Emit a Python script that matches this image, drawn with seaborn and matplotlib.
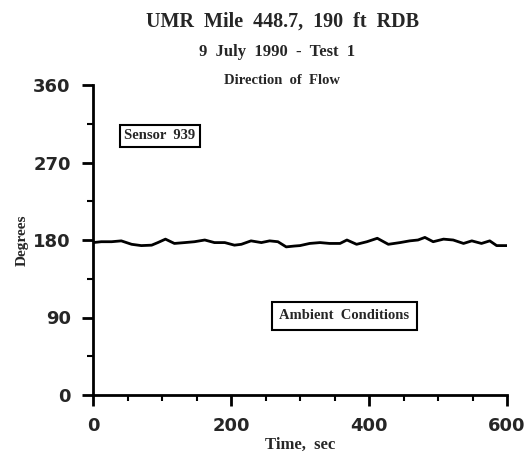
import matplotlib
matplotlib.use("Agg")
import matplotlib.pyplot as plt
from matplotlib.ticker import MultipleLocator
import seaborn as sns
import pandas as pd

time_sec = [0, 12, 27, 41, 56, 70, 85, 94, 105, 118, 133, 147, 162, 176, 191,
            205, 215, 229, 244, 256, 268, 280, 292, 300, 314, 329, 343, 358,
            368, 382, 397, 412, 428, 445, 459, 471, 481, 493, 508, 522, 537,
            549, 563, 575, 585, 600]
degrees = [177, 178, 178, 179, 175, 173.5, 174, 177, 181, 176, 177, 178, 180,
           177, 177, 174, 175, 179, 177, 179, 178, 172, 173, 173.5, 176, 177,
           176, 176, 180, 175, 178, 182, 175, 177, 179, 180, 183, 178, 181,
           180, 176, 179, 176, 179, 173.5, 173.5]

title = "UMR  Mile  448.7,  190  ft  RDB"
subtitle = "9  July  1990  -  Test  1"
subtitle2 = "Direction  of  Flow"
xticks = [0, 200, 400, 600]
yticks = [0, 90, 180, 270, 360]

df = pd.DataFrame({"Time, sec": time_sec, "Degrees": degrees})

sns.set_style("ticks")
plt.rcParams['font.family'] = ['DejaVu Sans']

fig = plt.figure(figsize=(5.32, 4.66), dpi=100)
ax = fig.add_axes([93/532, 1-395/466, 414/532, 310/466])

sns.lineplot(data=df, x="Time, sec", y="Degrees", ax=ax, color="black", linewidth=2)

ax.set_xlim(0, 600)
ax.set_ylim(0, 360)
ax.set_xticks(xticks)
ax.set_yticks(yticks)
ax.xaxis.set_minor_locator(MultipleLocator(50))
ax.yaxis.set_minor_locator(MultipleLocator(45))
ax.tick_params(axis='both', which='major', direction='out', length=8, width=2,
               labelsize=13, color='black', pad=8)
ax.tick_params(axis='both', which='minor', direction='out', length=4, width=1.5,
               color='black')
for lab in ax.get_xticklabels() + ax.get_yticklabels():
    lab.set_fontweight('bold')

for s in ['top', 'right']:
    ax.spines[s].set_visible(False)
for s in ['left', 'bottom']:
    ax.spines[s].set_linewidth(2)
    ax.spines[s].set_color('black')

serif = ['Liberation Serif', 'DejaVu Serif']
ax.set_xlabel("Time,  sec", family=serif, fontweight='bold', fontsize=12, labelpad=1)
ax.set_ylabel("Degrees", family=serif, fontweight='bold', fontsize=11, labelpad=3)

fig.text(283/532, 1-22/466, title, ha='center', va='center', family=serif,
         fontweight='bold', fontsize=14.5)
fig.text(277/532, 1-52/466, subtitle, ha='center', va='center', family=serif,
         fontweight='bold', fontsize=12)
fig.text(282/532, 1-80/466, subtitle2, ha='center', va='center', family=serif,
         fontweight='bold', fontsize=10.5)

box1 = dict(boxstyle='square,pad=0.3', facecolor='white', edgecolor='black', linewidth=1.5)
box2 = dict(boxstyle='square,pad=0.5', facecolor='white', edgecolor='black', linewidth=1.5)
ax.text(97, 301, "Sensor  939", ha='center', va='center', family=serif,
        fontweight='bold', fontsize=10.5, bbox=box1)
ax.text(364, 92, "Ambient  Conditions", ha='center', va='center', family=serif,
        fontweight='bold', fontsize=10.5, bbox=box2)

fig.savefig("out.png", dpi=100, facecolor='white')
